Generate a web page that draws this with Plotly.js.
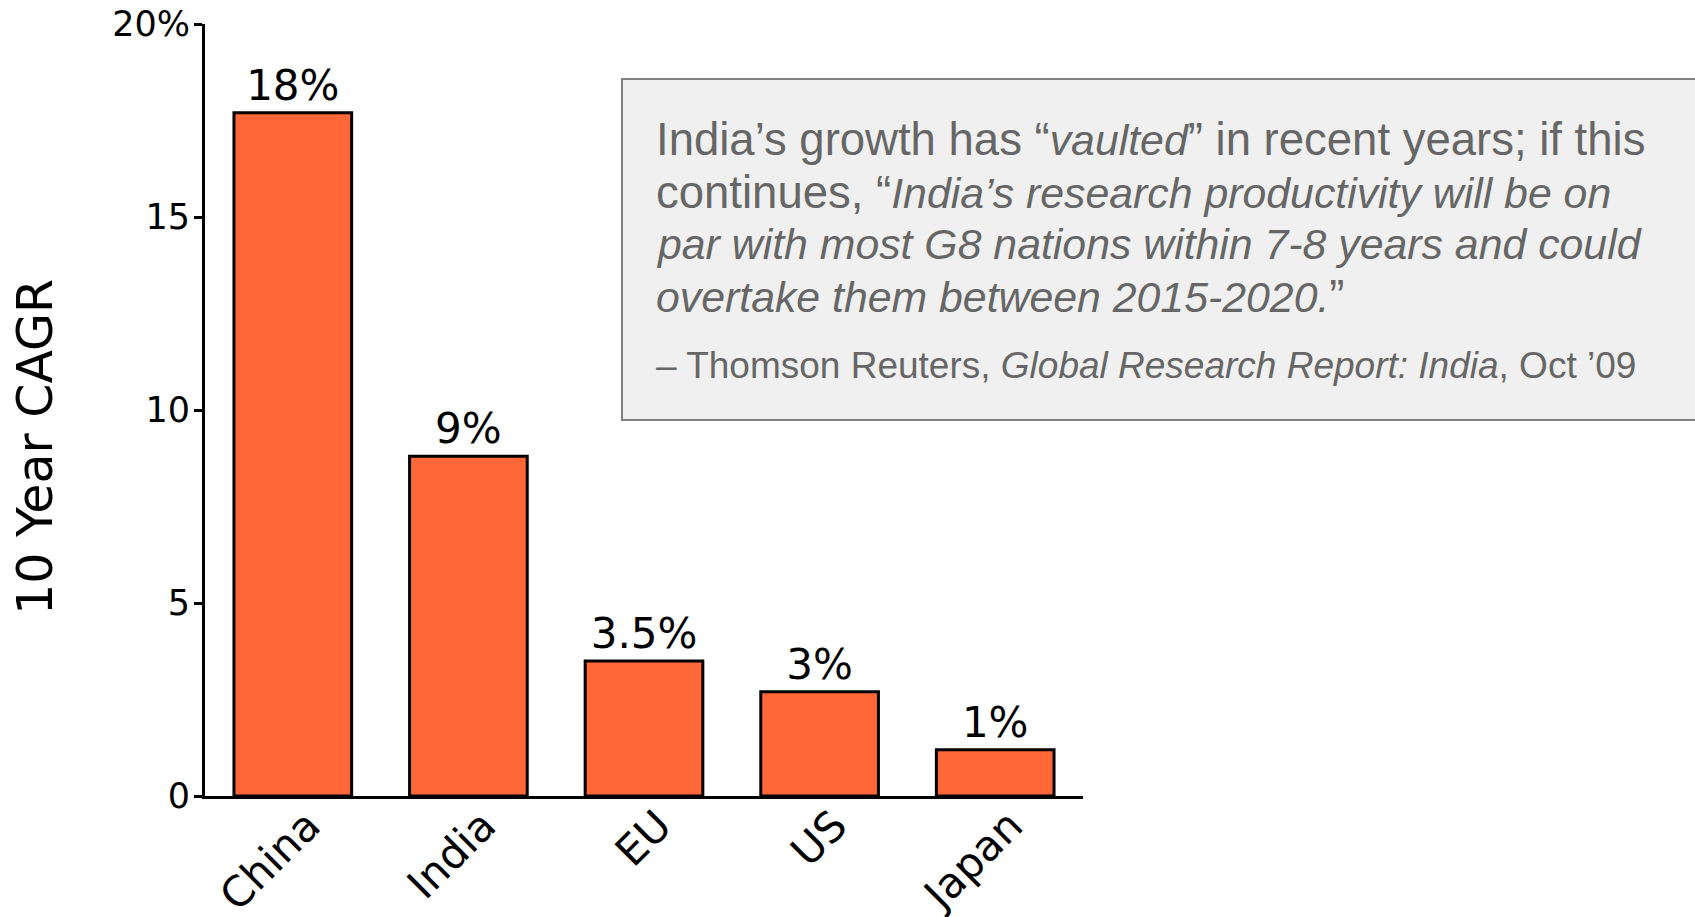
<!DOCTYPE html>
<html>
<head>
<meta charset="utf-8">
<script src="https://cdn.plot.ly/plotly-3.0.1.min.js"></script>
<style>
  html, body { margin: 0; padding: 0; background: #ffffff; }
  #chart { width: 1695px; height: 917px; }
</style>
</head>
<body>
<div id="chart"></div>
<script>
// ---- data ----
const categories = ['China', 'India', 'EU', 'US', 'Japan'];
const cagrValues = [17.7, 8.8, 3.5, 2.7, 1.2];
const barLabels = ['18%', '9%', '3.5%', '3%', '1%'];
const yTickVals = [0, 5, 10, 15, 20];
const yTickText = ['0', '5', '10', '15', '20%'];
const yTitle = '10 Year CAGR';
const IT = s => '<span style="font-size:42.8px"><i>' + s + '</i></span>';
const quoteLines = [
  'India’s growth has “' + IT('vaulted') + '” in recent years; if this',
  'continues, “' + IT('India’s research productivity will be on'),
  IT('par with most G8 nations within 7-8 years and could'),
  IT('overtake them between 2015-2020.') + '”'
];
const sourceLine = '– Thomson Reuters, <i>Global Research Report: India</i>, Oct ’09';

// ---- layout geometry ----
const W = 1695, H = 917;
const M = { l: 205, r: 1695 - 1083, t: 24, b: 917 - 796 };
const plotW = W - M.l - M.r, plotH = H - M.t - M.b;
const px = x => (x - M.l) / plotW;          // pixel x -> paper
const py = y => (H - M.b - y) / plotH;      // pixel y -> paper

const font = 'DejaVu Sans, Verdana, sans-serif';
const quoteFont = 'Liberation Sans, Arial, sans-serif';

const trace = {
  type: 'bar',
  x: categories,
  y: cagrValues,
  text: barLabels,
  textposition: 'outside',
  cliponaxis: false,
  textfont: { family: font, size: 42, color: '#000000' },
  marker: { color: '#ff6638', line: { color: '#000000', width: 3 } },
  hoverinfo: 'none'
};

const annotations = [];
// y-axis title
annotations.push({
  xref: 'paper', yref: 'paper', x: px(36), y: py(447),
  xanchor: 'center', yanchor: 'middle', textangle: -90,
  text: yTitle, showarrow: false,
  font: { family: font, size: 49, color: '#000000' }
});
// quote lines
const lineCenters = [139, 192, 244, 296];
quoteLines.forEach((t, i) => {
  annotations.push({
    xref: 'paper', yref: 'paper', x: px(654), y: py(lineCenters[i]),
    xanchor: 'left', yanchor: 'middle', text: t, showarrow: false,
    font: { family: quoteFont, size: 45.5, color: '#666666' }
  });
});
annotations.push({
  xref: 'paper', yref: 'paper', x: px(654), y: py(365),
  xanchor: 'left', yanchor: 'middle', text: sourceLine, showarrow: false,
  font: { family: quoteFont, size: 37, color: '#666666' }
});

const layout = {
  width: W, height: H,
  margin: M,
  paper_bgcolor: '#ffffff',
  plot_bgcolor: '#ffffff',
  showlegend: false,
  bargap: 0.33,
  xaxis: {
    type: 'category',
    showline: true, linecolor: '#000000', linewidth: 3,
    ticks: '', showgrid: false, zeroline: false,
    tickangle: -45,
    ticklabelshift: 15,
    ticklabelstandoff: -15,
    tickfont: { family: font, size: 42, color: '#000000' }
  },
  yaxis: {
    range: [0, 20],
    tickvals: yTickVals, ticktext: yTickText,
    showline: true, linecolor: '#000000', linewidth: 3,
    ticks: 'outside', ticklen: 8, tickwidth: 3, tickcolor: '#000000',
    ticklabelstandoff: -3,
    showgrid: false, zeroline: false,
    tickfont: { family: font, size: 35, color: '#000000' }
  },
  shapes: [{
    type: 'rect', xref: 'paper', yref: 'paper',
    x0: px(622), x1: px(1710), y0: py(420), y1: py(79),
    fillcolor: '#f0f0f0', line: { color: '#808080', width: 2 },
    layer: 'below'
  }],
  annotations: annotations
};

Plotly.newPlot('chart', [trace], layout, { staticPlot: true, displayModeBar: false });
</script>
</body>
</html>
